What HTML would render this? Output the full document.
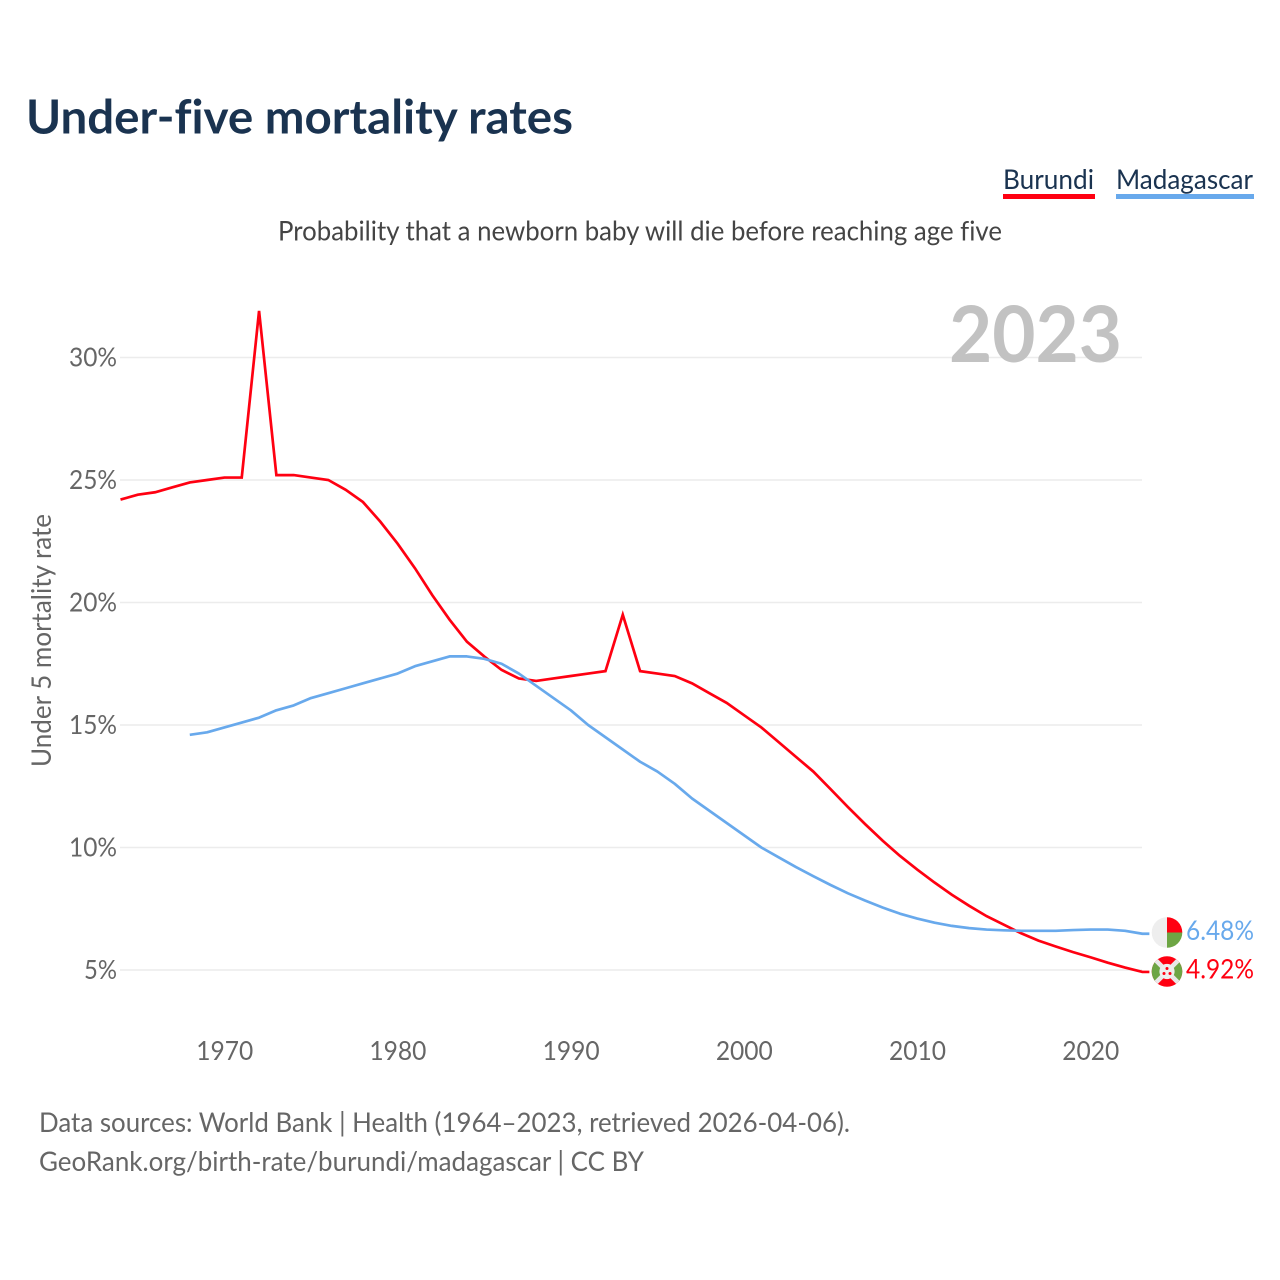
<!DOCTYPE html>
<html lang="en">
<head>
<meta charset="utf-8">
<title>Under-five mortality rates</title>
<style>
html,body{margin:0;padding:0;background:#fff;}
svg{display:block;}
text{font-family:"Lato","Liberation Sans",sans-serif;font-variant-ligatures:none;}
</style>
</head>
<body>
<svg id="chart" xmlns="http://www.w3.org/2000/svg" width="1280" height="1280" viewBox="0 0 1280 1280">
  <rect width="1280" height="1280" fill="#ffffff"/>
  <text x="26" y="133.5" font-size="47" font-weight="700" fill="#1a3350" textLength="547" lengthAdjust="spacingAndGlyphs">Under-five mortality rates</text>
  <g>
    <text x="1003" y="189" font-size="27" fill="#1a3350" textLength="91" lengthAdjust="spacingAndGlyphs">Burundi</text>
    <rect x="1003" y="194" width="92" height="5" fill="#ff0011"/>
  </g>
  <g>
    <text x="1116" y="189" font-size="27" fill="#1a3350" textLength="137" lengthAdjust="spacingAndGlyphs">Madagascar</text>
    <rect x="1116" y="194" width="138" height="5" fill="#68a9ec"/>
  </g>
  <text x="278" y="240.5" font-size="27" fill="#444444" textLength="724" lengthAdjust="spacingAndGlyphs">Probability that a newborn baby will die before reaching age five</text>
  <g id="grid"></g>
  <text x="1122" y="362" font-size="78" font-weight="700" fill="#c2c2c2" text-anchor="end" textLength="173" lengthAdjust="spacingAndGlyphs">2023</text>
  <g id="yticks"></g>
  <g id="xticks"></g>
  <text transform="translate(51,767) rotate(-90)" font-size="27" fill="#666666" textLength="253" lengthAdjust="spacingAndGlyphs">Under 5 mortality rate</text>
  <g id="series"></g>

  <g>
    <clipPath id="clip-mg"><circle cx="1167" cy="932.5" r="15.3"/></clipPath>
    <g clip-path="url(#clip-mg)">
      <rect x="1151" y="917" width="16" height="31" fill="#eeeeee"/>
      <rect x="1167" y="917" width="16" height="15.5" fill="#ff0011"/>
      <rect x="1167" y="932.5" width="16" height="15.5" fill="#6da544"/>
    </g>
  </g>
  <g>
    <clipPath id="clip-bi"><circle cx="1167" cy="971.5" r="15.3"/></clipPath>
    <g clip-path="url(#clip-bi)">
      <rect x="1151" y="955" width="32" height="33" fill="#ff0011"/>
      <polygon points="1151,957.5 1167,971.5 1151,985.5" fill="#6da544"/>
      <polygon points="1183,957.5 1167,971.5 1183,985.5" fill="#6da544"/>
      <line x1="1153" y1="957.5" x2="1181" y2="985.5" stroke="#e8e8e8" stroke-width="4.6"/>
      <line x1="1181" y1="957.5" x2="1153" y2="985.5" stroke="#e8e8e8" stroke-width="4.6"/>
      <circle cx="1167" cy="971.5" r="7.6" fill="#eeeeee"/>
      <circle cx="1167" cy="968.5" r="1.5" fill="#ff0011"/>
      <circle cx="1164" cy="973.5" r="1.5" fill="#ff0011"/>
      <circle cx="1170" cy="973.5" r="1.5" fill="#ff0011"/>
    </g>
  </g>
  <text id="end-mg" x="1186" y="940" font-size="27" fill="#68a9ec" textLength="68" lengthAdjust="spacingAndGlyphs"></text>
  <text id="end-bi" x="1186" y="978.5" font-size="27" fill="#ff0011" textLength="68" lengthAdjust="spacingAndGlyphs"></text>

  <text x="39" y="1132" font-size="27" fill="#666666" textLength="811" lengthAdjust="spacingAndGlyphs">Data sources: World Bank | Health (1964–2023, retrieved 2026-04-06).</text>
  <text x="39" y="1171" font-size="27" fill="#666666" textLength="605" lengthAdjust="spacingAndGlyphs">GeoRank.org/birth-rate/burundi/madagascar | CC BY</text>
</svg>
<script>
var burundiStartYear = 1964;
var burundiValues = [24.2,24.4,24.5,24.7,24.9,25.0,25.1,25.1,31.9,25.2,25.2,25.1,25.0,24.6,24.1,23.3,22.4,21.4,20.3,19.3,18.4,17.8,17.25,16.9,16.8,16.9,17.0,17.1,17.2,19.5,17.2,17.1,17.0,16.7,16.3,15.9,15.4,14.9,14.3,13.7,13.1,12.38,11.65,10.95,10.28,9.66,9.1,8.57,8.07,7.62,7.2,6.85,6.5,6.2,5.96,5.73,5.52,5.3,5.1,4.92];
var madagascarStartYear = 1968;
var madagascarValues = [14.6,14.7,14.9,15.1,15.3,15.6,15.8,16.1,16.3,16.5,16.7,16.9,17.1,17.4,17.6,17.8,17.8,17.7,17.5,17.1,16.6,16.1,15.6,15.0,14.5,14.0,13.5,13.1,12.6,12.0,11.5,11.0,10.5,10.0,9.6,9.2,8.83,8.47,8.13,7.83,7.55,7.3,7.1,6.93,6.8,6.71,6.65,6.62,6.6,6.6,6.6,6.63,6.65,6.65,6.6,6.48];
var yTickValues = [5,10,15,20,25,30];
var xTickValues = [1970,1980,1990,2000,2010,2020];

var NS = 'http://www.w3.org/2000/svg';
function xScale(year){ return 120.5 + (year - 1964) * 17.32; }
function yScale(pct){ return 970 - (pct - 5) * 24.5; }
function make(tag, attrs, parent){
  var el = document.createElementNS(NS, tag);
  for (var k in attrs) el.setAttribute(k, attrs[k]);
  parent.appendChild(el);
  return el;
}
var gridG = document.getElementById('grid');
var yG = document.getElementById('yticks');
var xG = document.getElementById('xticks');
var seriesG = document.getElementById('series');

yTickValues.forEach(function(v){
  var line = make('line', {x1:120, x2:1142, y1:yScale(v), y2:yScale(v), stroke:'#ececec', 'stroke-width':1.6}, gridG);
  
  
  var label = v + '%';
  var t = make('text', {x:117, y:yScale(v)+9, 'font-size':26.5, fill:'#666666', 'text-anchor':'end', textLength:label.length > 2 ? 48 : 33, lengthAdjust:'spacingAndGlyphs'}, yG);
  
  
  t.textContent = label;
});
xTickValues.forEach(function(v){
  var t = make('text', {x:xScale(v)+0.3, y:1060, 'font-size':26.5, fill:'#666666', 'text-anchor':'middle', textLength:57, lengthAdjust:'spacingAndGlyphs'}, xG);
  
  
  t.textContent = v;
});
function pathFor(values, startYear){
  var d = values.map(function(v, i){
    return (i ? 'L' : 'M') + xScale(startYear + i).toFixed(2) + ' ' + yScale(v).toFixed(2);
  }).join(' ');
  // short connector running from the last point towards the flag marker
  var last = values[values.length - 1];
  return d + ' L' + (xScale(startYear + values.length - 1) + 7).toFixed(2) + ' ' + yScale(last).toFixed(2);
}
var burundiLine = make('path', {d:pathFor(burundiValues, burundiStartYear), fill:'none', stroke:'#ff0011', 'stroke-width':2.7, 'stroke-linejoin':'miter'}, seriesG);


var madagascarLine = make('path', {d:pathFor(madagascarValues, madagascarStartYear), fill:'none', stroke:'#68a9ec', 'stroke-width':2.7, 'stroke-linejoin':'round'}, seriesG);


document.getElementById('end-bi').textContent = burundiValues[burundiValues.length-1].toFixed(2) + '%';
document.getElementById('end-mg').textContent = madagascarValues[madagascarValues.length-1].toFixed(2) + '%';
</script>
</body>
</html>
